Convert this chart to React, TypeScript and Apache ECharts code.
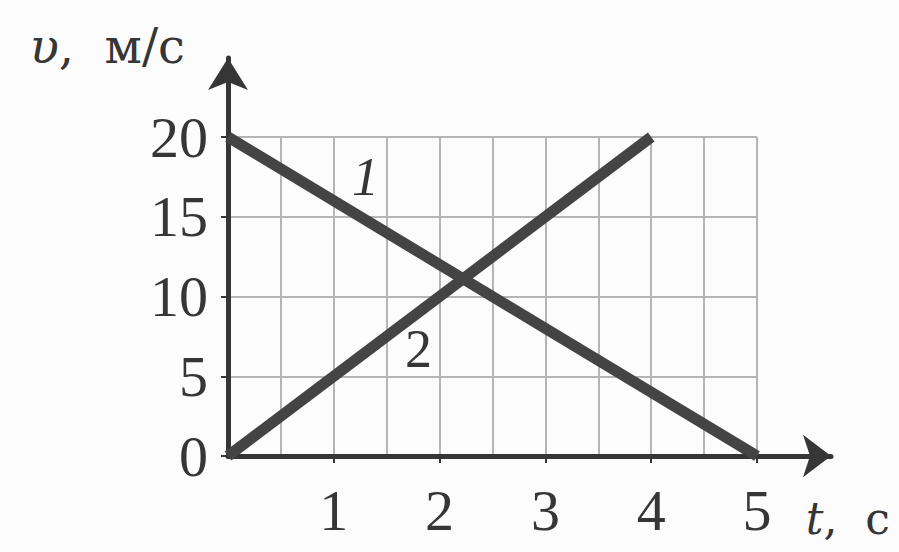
import React, { useEffect, useRef } from "react";
import * as echarts from "echarts";

// Data
const line1Points: number[][] = [[0, 20], [5, 0]];
const line2Points: number[][] = [[0, 0], [4, 20]];
const seriesLabels: string[] = ["1", "2"];
const seriesLabelCoords: number[][] = [[1.3, 17.5], [1.8, 6.7]];
const xRange: number[] = [0, 5];
const yRange: number[] = [0, 20];
const xTickStep = 1;
const yTickStep = 5;
const xAxisTitle = "t";
const xAxisUnit = "с";
const yAxisTitle = "υ";
const yAxisUnit = "м/с";

export default function App() {
  const ref = useRef<HTMLDivElement>(null);
  useEffect(() => {
    const chart = echarts.init(ref.current!, null, { renderer: "svg" });
    const serif = '"Liberation Serif", "DejaVu Serif", serif';
    const nameFont = '"DejaVu Serif", "Liberation Serif", serif';
    const ink = "#363636";
    const gridColor = "#b5b5b5";
    chart.setOption({
      animation: false,
      backgroundColor: "#fcfcfc",
      grid: [
        { left: 228, right: 142, top: 137, bottom: 96 },
        { left: 228, right: 68, top: 58, bottom: 96 },
      ],
      xAxis: [
        {
          gridIndex: 0,
          type: "value",
          min: xRange[0],
          max: xRange[1],
          interval: xTickStep,
          axisLine: { show: false },
          axisTick: { show: true, length: 7, lineStyle: { color: ink, width: 2 } },
          axisLabel: {
            showMinLabel: false,
            margin: 25,
            fontSize: 58,
            fontFamily: serif,
            color: ink,
          },
          splitLine: { show: true, lineStyle: { color: gridColor, width: 2 } },
          minorTick: { show: false, splitNumber: 2 },
          minorSplitLine: { show: true, lineStyle: { color: gridColor, width: 2 } },
        },
        {
          gridIndex: 1,
          type: "value",
          min: 0,
          max: 1,
          axisLine: {
            show: true,
            symbol: ["none", "arrow"],
            symbolSize: [32, 28],
            lineStyle: { color: ink, width: 5 },
          },
          axisTick: { show: false },
          axisLabel: { show: false },
          splitLine: { show: false },
          name: `{i|${xAxisTitle}},  ${xAxisUnit}`,
          nameLocation: "end",
          nameGap: 59,
          nameTextStyle: {
            fontFamily: nameFont,
            fontSize: 44,
            color: ink,
            align: "right",
            verticalAlign: "top",
            padding: [40, 0, 0, 0],
            rich: {
              i: { fontFamily: nameFont, fontSize: 44, fontStyle: "italic", color: ink },
            },
          },
        },
      ],
      yAxis: [
        {
          gridIndex: 0,
          type: "value",
          min: yRange[0],
          max: yRange[1],
          interval: yTickStep,
          axisLine: { show: false },
          axisTick: { show: true, length: 7, lineStyle: { color: ink, width: 2 } },
          axisLabel: {
            margin: 20,
            fontSize: 58,
            fontFamily: serif,
            color: ink,
          },
          splitLine: { show: true, lineStyle: { color: gridColor, width: 2 } },
        },
        {
          gridIndex: 1,
          type: "value",
          min: 0,
          max: 1,
          axisLine: {
            show: true,
            symbol: ["none", "arrow"],
            symbolSize: [30, 32],
            lineStyle: { color: ink, width: 5 },
          },
          axisTick: { show: false },
          axisLabel: { show: false },
          splitLine: { show: false },
          name: `{i|${yAxisTitle}},  ${yAxisUnit}`,
          nameLocation: "end",
          nameGap: 12,
          nameTextStyle: {
            fontFamily: nameFont,
            fontSize: 48,
            color: ink,
            align: "right",
            verticalAlign: "middle",
            padding: [0, 43, 0, 0],
            rich: {
              i: { fontFamily: nameFont, fontSize: 48, fontStyle: "italic", color: ink },
            },
          },
        },
      ],
      series: [
        {
          type: "line",
          xAxisIndex: 0,
          yAxisIndex: 0,
          data: line1Points,
          symbol: "none",
          lineStyle: { color: "#444444", width: 11 },
          markPoint: {
            symbol: "circle",
            symbolSize: 0,
            data: [{ coord: seriesLabelCoords[0], value: seriesLabels[0] }],
            label: {
              show: true,
              position: "inside",
              formatter: seriesLabels[0],
              fontFamily: serif,
              fontStyle: "italic",
              fontSize: 54,
              color: ink,
            },
          },
        },
        {
          type: "line",
          xAxisIndex: 0,
          yAxisIndex: 0,
          data: line2Points,
          symbol: "none",
          lineStyle: { color: "#444444", width: 11 },
          markPoint: {
            symbol: "circle",
            symbolSize: 0,
            data: [{ coord: seriesLabelCoords[1], value: seriesLabels[1] }],
            label: {
              show: true,
              position: "inside",
              formatter: seriesLabels[1],
              fontFamily: serif,
              fontSize: 54,
              color: ink,
            },
          },
        },
      ],
    });
    return () => chart.dispose();
  }, []);
  return (
    <div
      ref={ref}
      style={{ position: "fixed", left: 0, top: 0, width: 899, height: 552 }}
    />
  );
}
